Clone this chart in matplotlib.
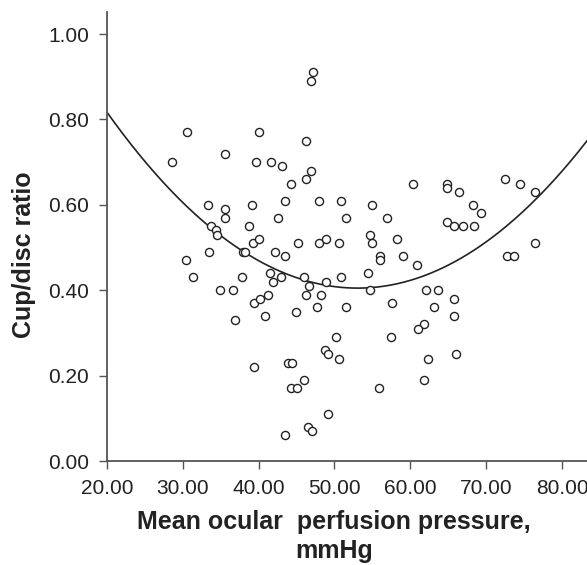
import numpy as np
import matplotlib
matplotlib.use("Agg")
import matplotlib.pyplot as plt
from matplotlib.ticker import FormatStrFormatter

plt.rcParams['font.family'] = ['Liberation Sans', 'DejaVu Sans']

# Mean ocular perfusion pressure (mmHg)
mopp = [
    47.1, 46.9, 30.6, 40.0, 46.2, 35.6, 28.6, 39.7, 41.6, 43.1,
    46.9, 46.2, 44.2, 33.3, 35.6, 35.6, 39.1, 43.5, 47.9, 50.8,
    51.5, 42.5, 33.7, 34.4, 34.5, 38.7, 39.2, 40.0, 33.4, 30.4,
    31.3, 37.9, 38.2, 42.1, 43.5, 45.2, 47.9, 48.9, 50.6, 41.5,
    41.9, 42.9, 37.8, 46.0, 46.7, 48.9, 50.8, 34.9, 36.6, 39.4,
    40.2, 41.2, 46.3, 48.2, 47.7, 51.5, 36.9, 40.8, 44.9, 50.2,
    48.7, 49.2, 50.6, 39.4, 43.9, 44.4, 46.0, 44.2, 45.0, 49.1,
    46.5, 47.0, 43.5, 60.3, 64.8, 64.8, 66.4, 72.5, 74.5, 76.5,
    54.9, 56.9, 68.3, 69.3, 64.8, 65.8, 66.9, 68.4, 54.7, 58.3,
    76.5, 55.0, 56.0, 56.0, 59.1, 72.7, 73.7, 60.9, 54.4, 54.7,
    62.1, 63.6, 65.8, 57.6, 63.1, 65.7, 61.8, 61.0, 57.5, 62.3,
    66.0, 61.8, 55.9,
]

# Cup/disc ratio
cd_ratio = [
    0.91, 0.89, 0.77, 0.77, 0.75, 0.72, 0.70, 0.70, 0.70, 0.69,
    0.68, 0.66, 0.65, 0.60, 0.59, 0.57, 0.60, 0.61, 0.61, 0.61,
    0.57, 0.57, 0.55, 0.54, 0.53, 0.55, 0.51, 0.52, 0.49, 0.47,
    0.43, 0.49, 0.49, 0.49, 0.48, 0.51, 0.51, 0.52, 0.51, 0.44,
    0.42, 0.43, 0.43, 0.43, 0.41, 0.42, 0.43, 0.40, 0.40, 0.37,
    0.38, 0.39, 0.39, 0.39, 0.36, 0.36, 0.33, 0.34, 0.35, 0.29,
    0.26, 0.25, 0.24, 0.22, 0.23, 0.23, 0.19, 0.17, 0.17, 0.11,
    0.08, 0.07, 0.06, 0.65, 0.65, 0.64, 0.63, 0.66, 0.65, 0.63,
    0.60, 0.57, 0.60, 0.58, 0.56, 0.55, 0.55, 0.55, 0.53, 0.52,
    0.51, 0.51, 0.48, 0.47, 0.48, 0.48, 0.48, 0.46, 0.44, 0.40,
    0.40, 0.40, 0.38, 0.37, 0.36, 0.34, 0.32, 0.31, 0.29, 0.24,
    0.25, 0.19, 0.17,
]

# quadratic fit line (a, b, c) as shown in the chart
fit_coef = [0.000377, -0.0400, 1.466]

x_ticks = [20, 30, 40, 50, 60, 70, 80]
y_ticks = [0.0, 0.2, 0.4, 0.6, 0.8, 1.0]

fig = plt.figure(figsize=(5.87, 5.65), dpi=100)
ax = fig.add_axes([0.1823, 0.184, 0.8177, 0.795])

ax.scatter(mopp, cd_ratio, s=34, facecolors='white', edgecolors='#222222',
           linewidths=1.0, zorder=3)

xs = np.linspace(20, 83.3, 300)
ax.plot(xs, np.polyval(fit_coef, xs), color='#222222', lw=1.2, zorder=2)

ax.set_xlim(20, 83.3)
ax.set_ylim(0, 1.052)
ax.set_xticks(x_ticks)
ax.set_yticks(y_ticks)
ax.xaxis.set_major_formatter(FormatStrFormatter('%.2f'))
ax.yaxis.set_major_formatter(FormatStrFormatter('%.2f'))

for s in ['top', 'right']:
    ax.spines[s].set_visible(False)
for s in ['left', 'bottom']:
    ax.spines[s].set_color('#555555')
    ax.spines[s].set_linewidth(1.3)

ax.tick_params(direction='out', length=5.8, width=1.0, colors='#555555',
               labelsize=15, labelcolor='#222222', pad=7)

ax.set_xlabel('Mean ocular  perfusion pressure,\nmmHg', fontsize=18,
              fontweight='bold', color='#222222', linespacing=1.3)
ax.xaxis.set_label_coords(0.473, -0.108)
ax.set_ylabel('Cup/disc ratio', fontsize=18, fontweight='bold', color='#222222')
ax.yaxis.set_label_coords(-0.148, 0.46)

fig.savefig('out.png', dpi=100)
